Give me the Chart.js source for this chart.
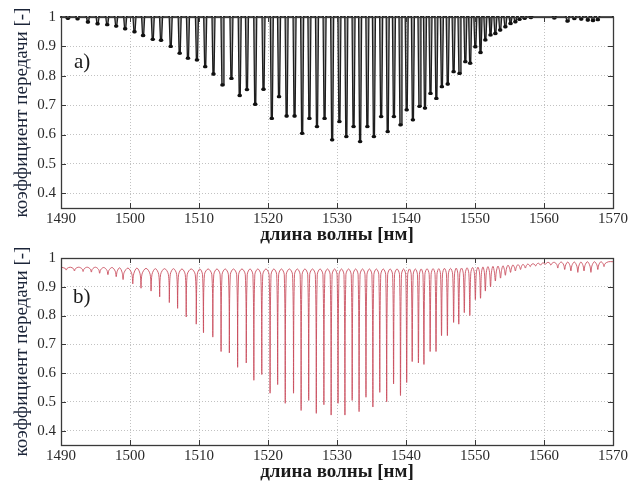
<!DOCTYPE html>
<html>
<head>
<meta charset="utf-8">
<script src="https://cdn.jsdelivr.net/npm/chart.js@4.4.0/dist/chart.umd.min.js"></script>
<style>
  html, body { margin: 0; padding: 0; background: #fff; }
  canvas { display: block; }
</style>
</head>
<body>
<canvas id="chartA" width="638" height="244"></canvas>
<canvas id="chartB" width="638" height="239"></canvas>
<script>
// tick labels
const xTicks = [1490, 1500, 1510, 1520, 1530, 1540, 1550, 1560, 1570];
const yTicks = [0.4, 0.5, 0.6, 0.7, 0.8, 0.9, 1];

// a) measured: dip wavelength [nm] and transmission at dip bottom
const dipsA = [1491.0, 1492.4, 1493.9, 1495.3, 1496.7, 1498.0, 1499.3, 1500.65, 1501.9, 1503.3,
  1504.5, 1505.9, 1507.2, 1508.4, 1509.7, 1510.9, 1512.1, 1513.4, 1514.7, 1515.9,
  1516.95, 1518.15, 1519.35, 1520.55, 1521.6, 1522.7, 1523.85, 1524.95, 1526.0, 1527.1,
  1528.2, 1529.3, 1530.35, 1531.35, 1532.4, 1533.35, 1534.4, 1535.35, 1536.4, 1537.35,
  1538.25, 1539.2, 1540.1, 1541.0, 1541.95, 1542.75, 1543.55, 1544.4, 1545.2, 1546.05,
  1546.9, 1547.75, 1548.6, 1549.3, 1550.05, 1550.8, 1551.5, 1552.25, 1552.95, 1553.65,
  1554.4, 1555.15, 1555.85, 1556.45, 1557.2, 1558.1, 1561.5, 1563.4, 1564.4, 1565.4,
  1566.35, 1567.1, 1567.8];
const minsA = [0.996, 0.994, 0.983, 0.977, 0.974, 0.969, 0.96, 0.95, 0.937, 0.924,
  0.921, 0.9, 0.877, 0.86, 0.854, 0.831, 0.806, 0.769, 0.791, 0.733,
  0.753, 0.703, 0.754, 0.655, 0.729, 0.663, 0.663, 0.604, 0.655, 0.627,
  0.655, 0.582, 0.644, 0.593, 0.627, 0.576, 0.627, 0.593, 0.661, 0.61,
  0.661, 0.633, 0.684, 0.65, 0.696, 0.69, 0.74, 0.723, 0.763, 0.772,
  0.814, 0.808, 0.848, 0.843, 0.899, 0.879, 0.922, 0.939, 0.944, 0.956,
  0.967, 0.978, 0.984, 0.992, 0.996, 0.998, 0.997, 0.986, 0.995, 0.993,
  0.99, 0.988, 0.991];

// b) simulated: dip wavelength, dip bottom, level of the arch after each dip
const dipsB = [1490.75, 1491.95, 1493.2, 1494.4, 1495.6, 1496.8, 1498.0, 1499.0, 1500.4, 1501.6,
  1503.05, 1504.3, 1505.7, 1506.9, 1508.15, 1509.6, 1510.65, 1512.0, 1513.2, 1514.4,
  1515.6, 1516.85, 1517.95, 1519.1, 1520.3, 1521.4, 1522.5, 1523.7, 1524.8, 1525.9,
  1527.0, 1528.1, 1529.15, 1530.15, 1531.15, 1532.2, 1533.2, 1534.2, 1535.2, 1536.2,
  1537.2, 1538.2, 1539.2, 1540.1, 1540.9, 1541.8, 1542.6, 1543.5, 1544.35, 1545.15,
  1546.0, 1546.9, 1547.65, 1548.45, 1549.25, 1550.05, 1550.8, 1551.5, 1552.25, 1552.95,
  1553.7, 1554.4, 1555.15, 1555.85, 1556.6, 1557.3, 1558.0, 1558.8, 1559.5, 1560.2,
  1561.0, 1562.0, 1563.0, 1563.9, 1564.9, 1565.8, 1566.8, 1567.8, 1568.7];
const minsB = [0.958, 0.955, 0.953, 0.951, 0.947, 0.942, 0.935, 0.925, 0.91, 0.895,
  0.885, 0.865, 0.845, 0.825, 0.795, 0.77, 0.74, 0.725, 0.675, 0.67,
  0.62, 0.635, 0.575, 0.595, 0.53, 0.56, 0.495, 0.53, 0.47, 0.505,
  0.46, 0.49, 0.454, 0.495, 0.454, 0.505, 0.466, 0.516, 0.482, 0.533,
  0.5, 0.562, 0.522, 0.567, 0.64, 0.635, 0.63, 0.675, 0.675, 0.73,
  0.73, 0.776, 0.77, 0.81, 0.8, 0.855, 0.86, 0.885, 0.9, 0.92,
  0.93, 0.94, 0.95, 0.955, 0.96, 0.965, 0.97, 0.972, 0.975, 0.978,
  0.975, 0.965, 0.96, 0.955, 0.95, 0.955, 0.95, 0.96, 0.97];
const peaksB = [0.968, 0.968, 0.968, 0.968, 0.967, 0.967, 0.966, 0.965, 0.965, 0.964,
  0.963, 0.963, 0.963, 0.962, 0.962, 0.962, 0.962, 0.962, 0.962, 0.962,
  0.962, 0.962, 0.962, 0.962, 0.962, 0.962, 0.962, 0.962, 0.962, 0.962,
  0.962, 0.962, 0.962, 0.962, 0.962, 0.962, 0.962, 0.962, 0.962, 0.962,
  0.962, 0.962, 0.962, 0.962, 0.962, 0.962, 0.963, 0.963, 0.963, 0.964,
  0.964, 0.965, 0.965, 0.966, 0.967, 0.968, 0.969, 0.97, 0.971, 0.972,
  0.973, 0.975, 0.976, 0.977, 0.978, 0.979, 0.98, 0.982, 0.983, 0.985,
  0.985, 0.986, 0.986, 0.986, 0.986, 0.987, 0.987, 0.987, 0.987];

const serif = '"Liberation Serif", "Times New Roman", serif';

function seriesA() {
  const pts = [{x: 1490, y: 1}];
  dipsA.forEach((l, i) => {
    pts.push({x: l - 0.22, y: 1}, {x: l - 0.08, y: minsA[i]},
             {x: l + 0.08, y: minsA[i]}, {x: l + 0.22, y: 1});
  });
  pts.push({x: 1570, y: 1});
  return pts;
}

// each dip: shoulder, bottom, shoulder; arch top midway to the next dip
function seriesB() {
  const pts = [{x: 1490, y: peaksB[0]}];
  dipsB.forEach((l, i) => {
    const next = i < dipsB.length - 1 ? dipsB[i + 1] : 1570;
    const before = i > 0 ? peaksB[i - 1] : peaksB[0];
    const sagL = Math.min(0.02, (before - minsB[i]) * 0.4);
    const sagR = Math.min(0.02, (peaksB[i] - minsB[i]) * 0.4);
    pts.push({x: l - 0.14, y: before - sagL}, {x: l, y: minsB[i]},
             {x: l + 0.14, y: peaksB[i] - sagR}, {x: (l + next) / 2, y: peaksB[i]});
  });
  pts.push({x: 1570, y: peaksB[peaksB.length - 1]});
  return pts;
}

// frame, inward ticks on all sides, panel label
const framePlugin = {
  id: 'frame',
  afterDraw(chart, args, opts) {
    const {ctx, chartArea: a, scales: {x, y}} = chart;
    ctx.save();
    ctx.strokeStyle = '#3a3a3a';
    ctx.lineWidth = 1;
    ctx.beginPath();
    xTicks.forEach(v => {
      const px = Math.round(x.getPixelForValue(v)) + 0.5;
      ctx.moveTo(px, a.top); ctx.lineTo(px, a.top + 5);
      ctx.moveTo(px, a.bottom); ctx.lineTo(px, a.bottom - 5);
    });
    yTicks.forEach(v => {
      const py = Math.round(y.getPixelForValue(v)) + 0.5;
      ctx.moveTo(a.left, py); ctx.lineTo(a.left + 5, py);
      ctx.moveTo(a.right, py); ctx.lineTo(a.right - 5, py);
    });
    ctx.stroke();
    ctx.lineWidth = 1.3;
    ctx.strokeRect(Math.round(a.left) + 0.5, Math.round(a.top) + 0.5,
                   Math.round(a.right - a.left), Math.round(a.bottom - a.top));
    ctx.fillStyle = '#1a1a1a';
    ctx.font = '21px ' + serif;
    ctx.textBaseline = 'alphabetic';
    ctx.fillText(opts.label, a.left + opts.lx, a.top + opts.ly);
    ctx.restore();
  }
};

function makeOptions(cfg) {
  return {
    responsive: false,
    animation: false,
    events: [],
    layout: {padding: {top: cfg.top, right: 25, left: 0, bottom: 0}},
    plugins: {
      legend: {display: false},
      tooltip: {enabled: false},
      frame: {label: cfg.label, lx: cfg.lx, ly: cfg.ly}
    },
    scales: {
      x: {
        type: 'linear', min: 1490, max: 1570,
        afterBuildTicks: s => { s.ticks = xTicks.map(v => ({value: v})); },
        afterFit: s => { s.height = cfg.xh; },
        grid: {color: '#c2c2c2', lineWidth: 1, drawTicks: false},
        border: {display: false, dash: [1, 2]},
        ticks: {padding: 2, color: '#2a2a2a', autoSkip: false, maxRotation: 0,
                font: {family: serif, size: 15}, callback: v => String(v)},
        title: {display: true, text: 'длина волны [нм]', color: '#1a1a1a',
                font: {family: serif, size: 19, weight: 'bold'},
                padding: {top: 0, bottom: cfg.tb}}
      },
      y: {
        type: 'linear', min: 0.35, max: 1,
        afterBuildTicks: s => { s.ticks = yTicks.map(v => ({value: v})); },
        afterFit: s => { s.width = 61; },
        grid: {color: '#c2c2c2', lineWidth: 1, drawTicks: false},
        border: {display: false, dash: [1, 2]},
        ticks: {padding: 5, color: '#2a2a2a', font: {family: serif, size: 15},
                callback: v => String(Math.round(v * 10) / 10)},
        title: {display: true, text: 'коэффициент передачи [-]', color: '#1b2438',
                font: {family: serif, size: 19}, padding: {top: 11, bottom: 0}}
      }
    }
  };
}

new Chart(document.getElementById('chartA'), {
  type: 'line',
  data: {
    datasets: [{
      data: seriesA(),
      borderColor: '#1e1e1e',
      borderWidth: 1.3,
      backgroundColor: 'rgba(90, 90, 90, 0.55)',
      fill: {value: 1},
      tension: 0,
      clip: 4,
      pointRadius: c => (c.raw && c.raw.y < 0.999 ? 1.7 : 1.1),
      pointBackgroundColor: '#111',
      pointBorderWidth: 0
    }]
  },
  options: makeOptions({top: 17, xh: 36, tb: -2, label: 'a)', lx: 13, ly: 51}),
  plugins: [framePlugin]
});

new Chart(document.getElementById('chartB'), {
  type: 'line',
  data: {
    datasets: [{
      data: seriesB(),
      borderColor: 'rgba(200, 72, 88, 0.85)',
      borderWidth: 1,
      tension: 0.35,
      clip: 4,
      pointRadius: 0
    }]
  },
  options: makeOptions({top: 10, xh: 38, tb: 0, label: 'b)', lx: 12, ly: 45}),
  plugins: [framePlugin]
});
</script>
</body>
</html>
